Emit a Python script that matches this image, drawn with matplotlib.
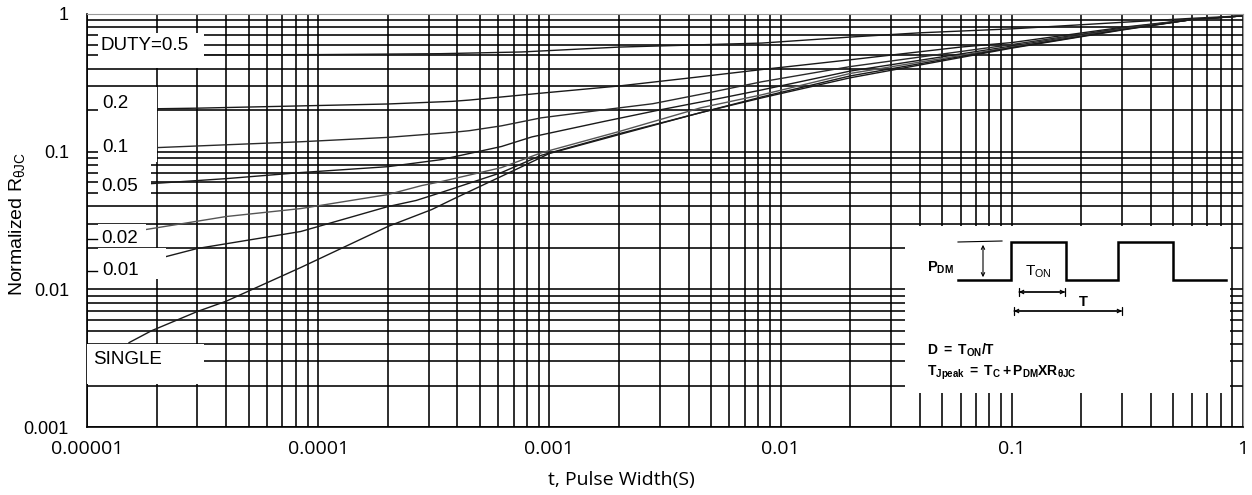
import numpy as np
import matplotlib
matplotlib.use("Agg")
import matplotlib.pyplot as plt
from matplotlib.patches import Rectangle
from matplotlib.ticker import FixedLocator, LogLocator, NullFormatter

plt.rcParams['font.family'] = ['Liberation Sans', 'DejaVu Sans']
plt.rcParams['mathtext.fontset'] = 'custom'
plt.rcParams['mathtext.rm'] = 'Liberation Sans'
plt.rcParams['mathtext.bf'] = 'Liberation Sans:bold'
plt.rcParams['mathtext.it'] = 'Liberation Sans:italic'

#---------------------data--------------------------------------------------
t_05 = [3.2e-5, 1e-4, 3.4e-4, 7.6e-4, 2e-3, 8.3e-3, 0.02, 0.04, 0.1, 0.3, 0.6, 1.0]
r_05 = [0.505, 0.507, 0.515, 0.53, 0.575, 0.615, 0.68, 0.73, 0.78, 0.87, 0.93, 0.97]

t_02 = [2e-5, 3e-5, 2e-4, 3.8e-4, 4.5e-4, 9.2e-4, 2e-3, 4.1e-3, 8.3e-3, 0.02, 0.06, 0.1, 0.3, 0.6, 1.0]
r_02 = [0.205, 0.207, 0.222, 0.232, 0.237, 0.266, 0.30, 0.344, 0.395, 0.465, 0.575, 0.62, 0.80, 0.91, 0.97]

t_01 = [2e-5, 8.4e-5, 2e-4, 3.8e-4, 4.5e-4, 6.2e-4, 9.2e-4, 1.7e-3, 2.8e-3, 5e-3, 8.3e-3, 0.02, 0.1, 0.3, 0.6, 1.0]
r_01 = [0.107, 0.118, 0.127, 0.138, 0.142, 0.154, 0.176, 0.201, 0.223, 0.27, 0.322, 0.415, 0.60, 0.79, 0.91, 0.97]

t_005 = [1.9e-5, 4e-5, 8.4e-5, 2e-4, 3.4e-4, 6.2e-4, 8.4e-4, 1.7e-3, 3e-3, 5.6e-3, 8.3e-3, 0.02, 0.1, 0.3, 0.6, 1.0]
r_005 = [0.0586, 0.0637, 0.0705, 0.0778, 0.0875, 0.109, 0.128, 0.165, 0.201, 0.246, 0.281, 0.385, 0.585, 0.78, 0.91, 0.97]

t_002 = [1.8e-5, 4e-5, 8.4e-5, 2e-4, 2.8e-4, 3.4e-4, 6.2e-4, 9.2e-4, 2e-3, 4.5e-3, 8.3e-3, 0.02, 0.1, 0.3, 0.6, 1.0]
r_002 = [0.0272, 0.0338, 0.0386, 0.0488, 0.0567, 0.0606, 0.0766, 0.098, 0.14, 0.208, 0.259, 0.37, 0.575, 0.775, 0.91, 0.97]

t_001 = [2.2e-5, 3e-5, 8.4e-5, 2e-4, 2.65e-4, 3.4e-4, 6.2e-4, 9.2e-4, 2e-3, 8.3e-3, 0.02, 0.1, 0.3, 0.6, 1.0]
r_001 = [0.0173, 0.0198, 0.0263, 0.0399, 0.0442, 0.0505, 0.0705, 0.094, 0.135, 0.25, 0.355, 0.57, 0.77, 0.91, 0.97]

t_single = [1.52e-5, 1.9e-5, 3e-5, 4e-5, 8.4e-5, 2e-4, 3.1e-4, 3.8e-4, 7.6e-4, 1e-3, 2e-3, 4.5e-3, 8.3e-3, 0.02, 0.1, 0.3, 0.6, 1.0]
r_single = [0.0041, 0.005, 0.0069, 0.0082, 0.0144, 0.0286, 0.038, 0.0449, 0.0778, 0.097, 0.133, 0.192, 0.246, 0.344, 0.565, 0.765, 0.91, 0.97]

x_ticks = [1e-5, 1e-4, 1e-3, 1e-2, 1e-1, 1.0]
x_labels = ['0.00001', '0.0001', '0.001', '0.01', '0.1', '1']
y_ticks = [1e-3, 1e-2, 1e-1, 1.0]
y_labels = ['0.001', '0.01', '0.1', '1']

curve_names = ['DUTY=0.5', '0.2', '0.1', '0.05', '0.02', '0.01', 'SINGLE']

#---------------------figure------------------------------------------------
fig = plt.figure(figsize=(12.52, 4.95), dpi=100)
ax = fig.add_axes([87/1252, 1-427/495, 1156/1252, 413/495])
ax.set_xscale('log')
ax.set_yscale('log')
ax.set_xlim(1e-5, 1)
ax.set_ylim(1e-3, 1)

ax.xaxis.set_major_locator(FixedLocator(x_ticks))
ax.yaxis.set_major_locator(FixedLocator(y_ticks))
ax.xaxis.set_minor_locator(LogLocator(base=10, subs=np.arange(2, 10), numticks=100))
ax.yaxis.set_minor_locator(LogLocator(base=10, subs=np.arange(2, 10), numticks=100))
ax.xaxis.set_minor_formatter(NullFormatter())
ax.yaxis.set_minor_formatter(NullFormatter())
ax.set_xticklabels(x_labels, fontsize=14, family=['Open Sans', 'DejaVu Sans'])
ax.set_yticklabels(y_labels, fontsize=13)
ax.tick_params(which='both', length=0)
ax.tick_params(axis='x', pad=9)
ax.tick_params(axis='y', pad=13)
ax.grid(which='both', color='black', lw=1.15)

for s in ['top', 'right']:
    ax.spines[s].set_color('#999999')
for s in ['left', 'bottom']:
    ax.spines[s].set_color('black')
    ax.spines[s].set_linewidth(1.2)

# the curves
series = [(t_05, r_05, '#1a1a1a'), (t_02, r_02, '#1a1a1a'), (t_01, r_01, '#2a2a2a'),
          (t_005, r_005, '#1a1a1a'), (t_002, r_002, '#555555'), (t_001, r_001, '#1a1a1a'),
          (t_single, r_single, '#1a1a1a')]
for t, r, c in series:
    ax.plot(t, r, color=c, lw=1.0, zorder=2)

# white label boxes on the left side: (x0, x1, y0, y1)
label_boxes = [(1.116e-5, 3.21e-5, 0.406, 0.728),
               (1.116e-5, 2.0e-5, 0.0845, 0.296),
               (1.116e-5, 1.89e-5, 0.0414, 0.0819),
               (1.116e-5, 1.80e-5, 0.0205, 0.0296),
               (1.116e-5, 2.20e-5, 0.0118, 0.0198),
               (1.0e-5, 3.21e-5, 0.00206, 0.00398)]
for x0, x1, y0, y1 in label_boxes:
    ax.add_patch(Rectangle((x0, y0), x1-x0, y1-y0, fc='white', ec='none', zorder=3))

label_pos = [(1.14e-5, 0.586), (1.16e-5, 0.223), (1.16e-5, 0.107), (1.15e-5, 0.0557),
             (1.15e-5, 0.0234), (1.16e-5, 0.0137), (1.06e-5, 0.00309)]
for name, (lx, ly) in zip(curve_names, label_pos):
    ax.text(lx, ly, name, fontsize=13.5, ha='left', va='center', zorder=4)

# short leader dashes in front of two labels
for ly in [0.0234, 0.0137]:
    ax.plot([1.0e-5, 1.1e-5], [ly, ly], color='black', lw=1.0, zorder=4)

fig.text(17/1252, 1-224/495, r'Normalized R$_{\mathregular{θJC}}$', fontsize=14,
         rotation=90, ha='center', va='center')
fig.text(621/1252, 1-480/495, 't, Pulse Width(S)', fontsize=14,
         family=['Open Sans', 'DejaVu Sans'], ha='center', va='center')

#---------------------inset with the pulse diagram (pixel coords)----------
ins = fig.add_axes([905/1252, 1-393/495, 325/1252, 167/495])
ins.set_xlim(905, 1230)
ins.set_ylim(393, 226)
ins.set_facecolor('white')
ins.set_xticks([])
ins.set_yticks([])
for s in ins.spines.values():
    s.set_visible(False)

wave_x = [958, 1011, 1011, 1066, 1066, 1118, 1118, 1173, 1173, 1226]
wave_y = [280, 280, 242, 242, 280, 280, 242, 242, 280, 280]
ins.plot(wave_x, wave_y, color='black', lw=1.8, solid_joinstyle='miter')
ins.plot([958, 1002], [242, 241], color='black', lw=0.8)
ins.annotate('', xy=(983, 242), xytext=(983, 280),
             arrowprops=dict(arrowstyle='<->', lw=0.8, mutation_scale=6))
for xa, xb, ya in [(1019, 1065, 292), (1014, 1122, 311)]:
    ins.annotate('', xy=(xb, ya), xytext=(xa, ya),
                 arrowprops=dict(arrowstyle='|-|,widthA=0.35,widthB=0.35', lw=0.9,
                                 mutation_scale=8, shrinkA=0, shrinkB=0))
    ins.annotate('', xy=(xb, ya), xytext=(xa, ya),
                 arrowprops=dict(arrowstyle='<->', lw=0.9, mutation_scale=6,
                                 shrinkA=0, shrinkB=0))

ins.text(927, 268, r'$\mathbf{P_{DM}}$', fontsize=10.5, ha='left', va='center')
ins.text(1025, 272, r'$\mathregular{T_{ON}}$', fontsize=11, ha='left', va='center')
ins.text(1083, 302, r'$\mathbf{T}$', fontsize=10.5, ha='center', va='center')
ins.text(927, 350, r'$\mathbf{D\ =\ T_{ON}/T}$', fontsize=10, ha='left', va='center')
ins.text(927, 373, r'$\mathbf{T_{Jpeak}\ =\ T_C+P_{DM}XR_{θJC}}$', fontsize=10, ha='left', va='center')

fig.savefig('out.png', dpi=100)
